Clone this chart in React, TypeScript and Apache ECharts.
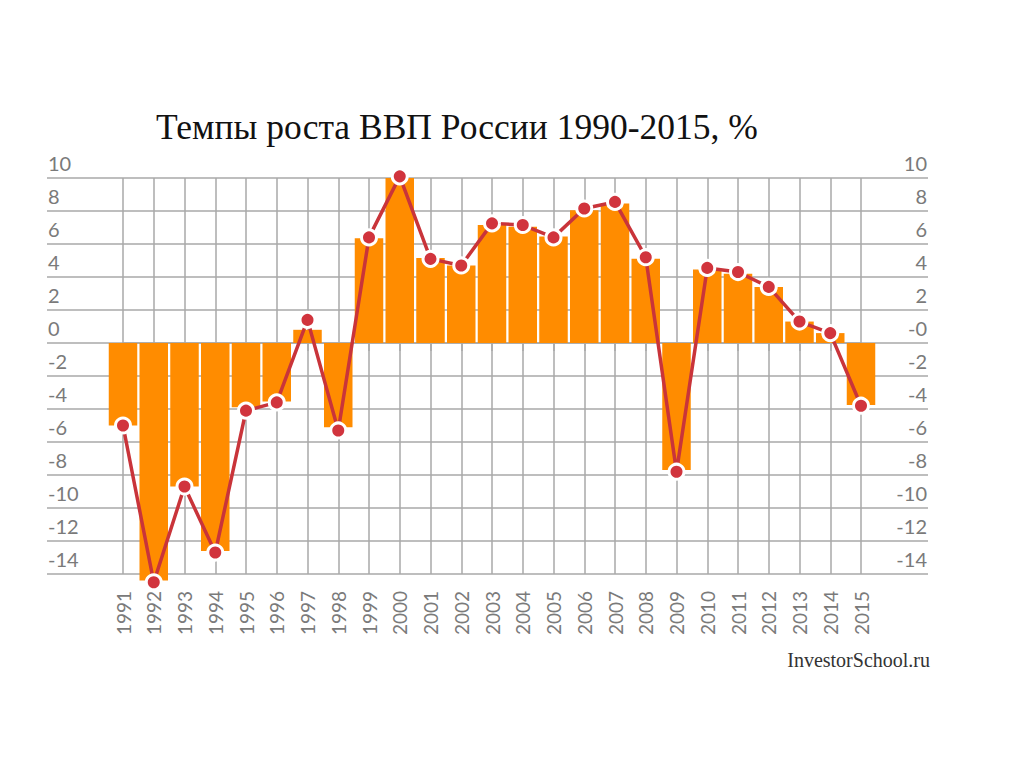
import React, { useEffect, useRef } from "react";
import * as echarts from "echarts";

const years = [
  "1991", "1992", "1993", "1994", "1995", "1996", "1997", "1998", "1999", "2000",
  "2001", "2002", "2003", "2004", "2005", "2006", "2007", "2008", "2009", "2010",
  "2011", "2012", "2013", "2014", "2015",
];
const barValues = [
  -5.0, -14.4, -8.7, -12.6, -3.9, -3.55, 0.8, -5.1, 6.35, 10.0,
  5.15, 4.7, 7.15, 7.05, 6.45, 8.05, 8.45, 5.1, -7.7, 4.45,
  4.2, 3.4, 1.3, 0.6, -3.75,
];
const lineValues = [
  -5.0, -14.5, -8.7, -12.7, -4.1, -3.6, 1.4, -5.3, 6.4, 10.1,
  5.1, 4.7, 7.25, 7.15, 6.4, 8.15, 8.55, 5.2, -7.8, 4.55,
  4.3, 3.4, 1.3, 0.6, -3.8,
];
const yMin = -14;
const yMax = 10;
const yStep = 2;
const titleText = "Темпы роста ВВП России 1990-2015, %";
const sourceText = "InvestorSchool.ru";

const GRID = "#a8a8a8";
const LABEL = "#7a7a7a";
const SANS = "Lato, 'Open Sans', sans-serif";
const SERIF = "'Liberation Serif', 'DejaVu Serif', serif";

export default function App() {
  const ref = useRef<HTMLDivElement>(null);
  useEffect(() => {
    if (!ref.current) return;
    const chart = echarts.init(ref.current, null, { renderer: "svg" });
    const yLabelCommon = {
      inside: true,
      margin: 1,
      color: LABEL,
      fontFamily: SANS,
      fontSize: 20,
      verticalAlign: "bottom",
      padding: [0, 0, 5, 0],
    };
    chart.setOption({
      animation: false,
      backgroundColor: "#ffffff",
      title: {
        text: titleText,
        left: 151,
        top: 104,
        textStyle: {
          fontFamily: SERIF,
          fontSize: 35.5,
          fontWeight: "normal",
          color: "#111111",
        },
      },
      graphic: [
        {
          type: "text",
          right: 94,
          top: 650,
          style: {
            text: sourceText,
            font: "20px " + SERIF,
            fill: "#333333",
          },
        },
      ],
      grid: [
        { left: 47, right: 96, top: 178, bottom: 194 },
        { left: 123, right: 163, top: 178, bottom: 194 },
      ],
      xAxis: [
        { gridIndex: 0, type: "value", min: 0, max: 1, show: false },
        {
          gridIndex: 1,
          type: "category",
          data: years,
          boundaryGap: false,
          axisLine: { show: true, lineStyle: { color: GRID, width: 1.5 } },
          axisTick: { show: true, length: 8, lineStyle: { color: GRID, width: 1.5 } },
          splitLine: { show: true, lineStyle: { color: GRID, width: 1.5 } },
          axisLabel: {
            rotate: 90,
            margin: 17,
            color: LABEL,
            fontFamily: SANS,
            fontSize: 19,
            interval: 0,
          },
        },
      ],
      yAxis: [
        {
          gridIndex: 0,
          type: "value",
          position: "left",
          min: yMin,
          max: yMax,
          interval: yStep,
          axisLine: { show: false },
          axisTick: { show: false },
          splitLine: { show: true, lineStyle: { color: GRID, width: 1.5 } },
          axisLabel: { ...yLabelCommon },
        },
        {
          gridIndex: 0,
          type: "value",
          position: "right",
          min: yMin,
          max: yMax,
          interval: yStep,
          axisLine: { show: false },
          axisTick: { show: false },
          splitLine: { show: false },
          axisLabel: {
            ...yLabelCommon,
            formatter: (v: number) => (v === 0 ? "-0" : String(v)),
          },
        },
        {
          gridIndex: 1,
          type: "value",
          min: yMin,
          max: yMax,
          interval: yStep,
          show: false,
          splitLine: { show: false },
        },
      ],
      series: [
        {
          type: "bar",
          xAxisIndex: 1,
          yAxisIndex: 2,
          data: barValues,
          barWidth: 28.5,
          clip: false,
          itemStyle: { color: "#FF8C00" },
          z: 2,
        },
        {
          type: "line",
          xAxisIndex: 1,
          yAxisIndex: 2,
          data: lineValues,
          clip: false,
          symbol: "circle",
          symbolSize: 15,
          lineStyle: { color: "#C9343A", width: 3.5 },
          itemStyle: { color: "#D1343D", borderColor: "#ffffff", borderWidth: 3 },
          z: 3,
        },
      ],
    });
    return () => chart.dispose();
  }, []);
  return (
    <div
      ref={ref}
      style={{ position: "fixed", left: 0, top: 0, width: 1024, height: 768 }}
    />
  );
}
